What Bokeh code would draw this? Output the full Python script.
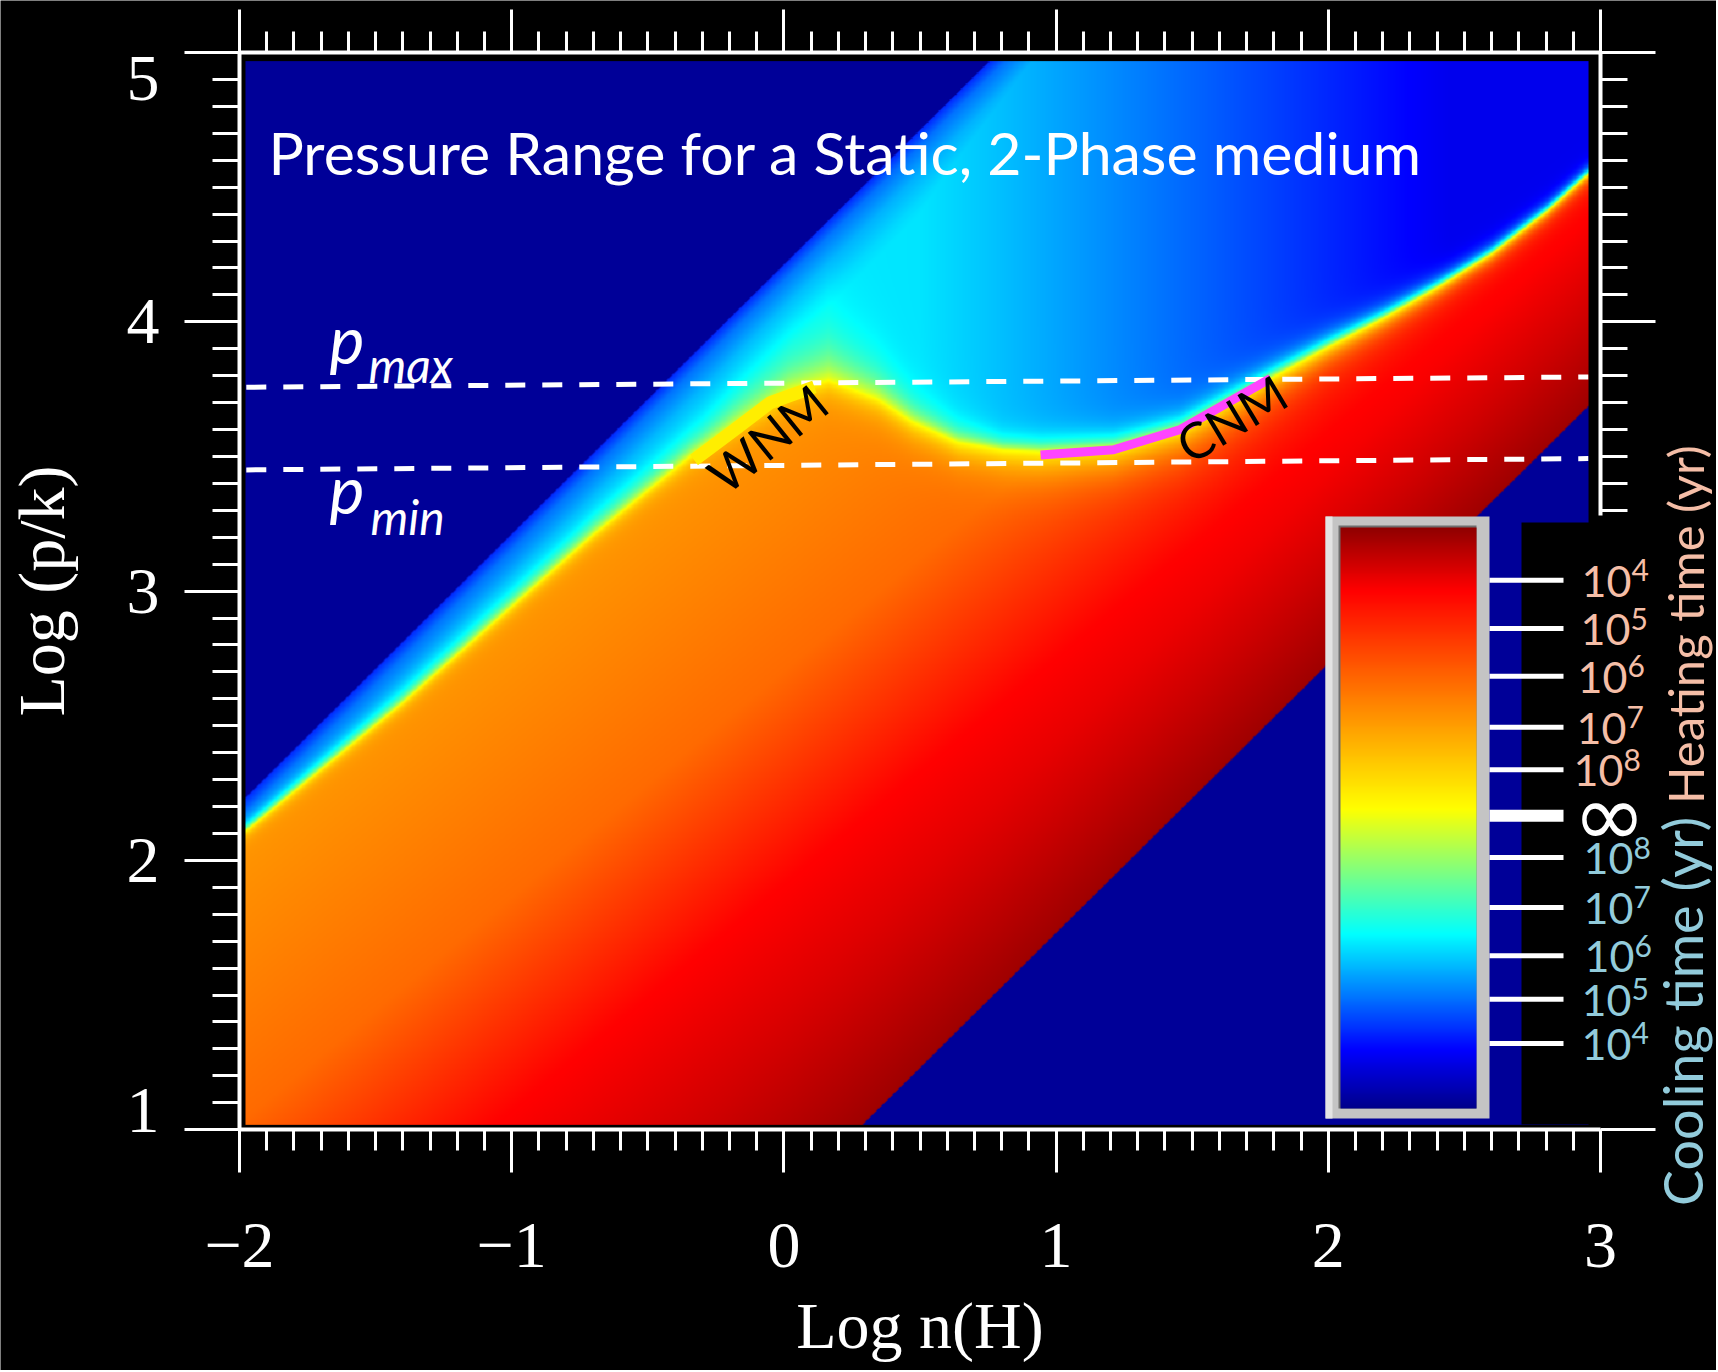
import numpy as np
from bokeh.plotting import figure
from bokeh.models import (LinearAxis, SingleIntervalTicker, FixedTicker, Range1d, Label,
                          CustomJSTickFormatter)
from bokeh.embed import file_html
from bokeh.resources import INLINE

# ---------------- values ----------------
# thermal-equilibrium curve (heating = cooling): log n(H) -> log p/k
eq_logn = [-2.00, -1.40, -0.70, -0.347, -0.18, 0.015, 0.164, 0.344, 0.473,
           0.638, 0.803, 0.943, 1.211, 1.457, 1.788, 2.0, 2.2, 2.4, 2.6, 2.8, 2.96]
eq_logp = [2.09, 2.586, 3.21, 3.498, 3.617, 3.74, 3.784, 3.714, 3.628,
           3.553, 3.524, 3.516, 3.53, 3.60, 3.788, 3.905, 4.01, 4.125, 4.25, 4.405, 4.55]

# temperature limits of the computed grid (log p/k - log n)
hot_limit = 4.21
cold_limit = 0.73

# heating-time side: colour level vs (tilted) log T, and width of the approach to equilibrium
heat_logT = [0.73, 1.33, 1.96, 2.75, 3.3, 4.2]
heat_level = [0.985, 0.937, 0.89, 0.735, 0.70, 0.645]
heat_tilt = 0.16
heat_scale_logn = [-2.0, -0.5, 0.16, 0.6, 1.0, 1.6, 2.0, 2.5, 3.0]
heat_scale = [0.02, 0.03, 0.05, 0.06, 0.08, 0.08, 0.05, 0.03, 0.025]

# cooling-time side
cool_logT = [3.8, 3.95, 4.05, 4.15, 4.21]
cool_level_T = [0.30, 0.27, 0.24, 0.19, 0.13]
cool_logn = [-2.0, 0.5, 2.45, 3.0]
cool_level_n = [0.30, 0.28, 0.085, 0.085]
cool_scale_logn = [-2.0, -0.8, -0.3, 0.16, 0.5, 0.8, 1.2, 1.6, 2.0, 2.5, 3.0]
cool_scale = [0.02, 0.04, 0.05, 0.12, 0.055, 0.035, 0.04, 0.04, 0.035, 0.025, 0.02]

# stable branches
wnm_logn = [-0.33, -0.18, -0.05, 0.112]
wnm_logp = [3.487, 3.60, 3.70, 3.758]
cnm_logn = [0.943, 1.211, 1.457, 1.788]
cnm_logp = [3.505, 3.525, 3.60, 3.79]

# pressure limits
pmax_logn = [-1.975, 2.955]
pmax_logp = [3.757, 3.795]
pmin_logn = [-1.975, 2.955]
pmin_logp = [3.450, 3.492]

# colour scale (0 = shortest cooling time, 1 = shortest heating time)
cmap_pos = [0.0, 0.10, 0.30, 0.516, 0.892, 1.0]
cmap_r = [0, 0, 0, 255, 255, 144]
cmap_g = [0, 0, 255, 255, 0, 0]
cmap_b = [140, 255, 255, 0, 0, 0]
heat_exponents = ["4", "5", "6", "7", "8"]
heat_tick_level = [0.909, 0.826, 0.744, 0.656, 0.583]
inf_level = 0.504
cool_exponents = ["8", "7", "6", "5", "4"]
cool_tick_level = [0.432, 0.346, 0.263, 0.188, 0.112]

# ---------------- helpers (layout only) ----------------
PX_X = 272.2
PX_Y = 269.3

def fx(px):
    return (px - 239) / PX_X - 2

def fy(py):
    return 5 - (py - 52) / PX_Y

def pack(R, G, B):
    h, w = R.shape
    img = np.empty((h, w), dtype=np.uint32)
    view = img.view(dtype=np.uint8).reshape((h, w, 4))
    view[:, :, 0] = np.clip(R, 0, 255).astype(np.uint8)
    view[:, :, 1] = np.clip(G, 0, 255).astype(np.uint8)
    view[:, :, 2] = np.clip(B, 0, 255).astype(np.uint8)
    view[:, :, 3] = 255
    return img

def cmap(v):
    return (np.interp(v, cmap_pos, cmap_r), np.interp(v, cmap_pos, cmap_g),
            np.interp(v, cmap_pos, cmap_b))

# ---------------- raster of heating / cooling time ----------------
img_x0, img_x1 = -1.978, 2.956
img_y0, img_y1 = 1.018, 4.968
nx, ny = 1100, 870
xs = img_x0 + (np.arange(nx) + 0.5) * (img_x1 - img_x0) / nx
ys = img_y0 + (np.arange(ny) + 0.5) * (img_y1 - img_y0) / ny
X, Y = np.meshgrid(xs, ys)
T = Y - X
yeq = np.interp(X, eq_logn, eq_logp)
d = Y - yeq
tilt = heat_tilt * (X + 0.3) * np.clip((T - cold_limit) / 0.7, 0, 1)
v0 = np.interp(T + tilt, heat_logT, heat_level)
lh = np.interp(X, heat_scale_logn, heat_scale)
vh = 0.505 + (v0 - 0.505) * (1 - np.exp(-np.clip(-d, 0, None) / lh))
w0 = np.minimum(np.interp(T, cool_logT, cool_level_T), np.interp(X, cool_logn, cool_level_n))
lc = np.interp(X, cool_scale_logn, cool_scale)
vc = 0.505 - (0.505 - w0) * (1 - np.exp(-np.clip(d, 0, None) / lc))
v = np.where(d < 0, vh, vc)
R, G, B = cmap(v)
pix = 0.006
a = np.clip((hot_limit - T) / pix + 0.5, 0, 1) * np.clip((T - cold_limit) / pix + 0.5, 0, 1)
navy = (0, 0, 152)
R = navy[0] * (1 - a) + R * a
G = navy[1] * (1 - a) + G * a
B = navy[2] * (1 - a) + B * a
field = pack(R, G, B)

# colour bar gradient
cv = np.linspace(0, 1, 600).reshape(600, 1)
cr, cg, cb = cmap(cv)
bar = pack(cr, cg, cb)

# ---------------- figure: the frame spans the whole canvas, axes sit at fixed places ----------------
CANVAS_W, CANVAS_H = 1716, 1370
p = figure(x_range=Range1d(fx(0), fx(CANVAS_W)), y_range=Range1d(fy(CANVAS_H), fy(0)),
           frame_width=CANVAS_W, frame_height=CANVAS_H,
           min_border_left=0, min_border_right=0, min_border_top=0, min_border_bottom=0,
           output_backend="svg", toolbar_location=None,
           background_fill_color="black", border_fill_color="black")
p.outline_line_color = None
p.grid.visible = False

p.image_rgba(image=[field], x=img_x0, y=img_y0, dw=img_x1 - img_x0, dh=img_y1 - img_y0)

# black panel behind the colour-bar labels
p.quad(left=fx(1521), right=fx(1760), bottom=fy(1124), top=fy(522), fill_color="black", line_color=None)

# colour bar frame and gradient
p.quad(left=fx(1325), right=fx(1489), bottom=fy(1118), top=fy(516),
       fill_color="#c4c4c4", line_color=None)
p.quad(left=fx(1325), right=fx(1332), bottom=fy(1118), top=fy(516),
       fill_color="#e4e4e4", line_color=None)
p.quad(left=fx(1338), right=fx(1476), bottom=fy(1108), top=fy(525),
       fill_color="#6e6e6e", line_color=None)
cb_y0, cb_y1 = fy(1108), fy(527)
p.image_rgba(image=[bar], x=fx(1340), y=cb_y0, dw=fx(1476) - fx(1340), dh=cb_y1 - cb_y0)

def cb_y(level):
    return cb_y0 + level * (cb_y1 - cb_y0)

tick_levels = heat_tick_level + cool_tick_level
p.segment(x0=[fx(1489)] * len(tick_levels), x1=[fx(1563)] * len(tick_levels),
          y0=[cb_y(t) for t in tick_levels], y1=[cb_y(t) for t in tick_levels],
          line_color="white", line_width=5)
p.segment(x0=[fx(1489)], x1=[fx(1563)], y0=[cb_y(inf_level)], y1=[cb_y(inf_level)],
          line_color="white", line_width=12)

# pressure limits and stable phases
p.line(pmax_logn, pmax_logp, line_color="white", line_width=5, line_dash="20 17")
p.line(pmin_logn, pmin_logp, line_color="white", line_width=5, line_dash="20 17")
p.line(wnm_logn, wnm_logp, line_color="#ffee00", line_width=13)
p.line(cnm_logn, cnm_logp, line_color="#ff44ff", line_width=9)

# ---------------- axes ----------------
def style(ax, major_out, minor_out):
    ax.ticker = SingleIntervalTicker(interval=1, num_minor_ticks=10)
    ax.axis_line_color = "white"
    ax.axis_line_width = 4
    ax.major_tick_line_color = "white"
    ax.major_tick_line_width = 3
    ax.minor_tick_line_color = "white"
    ax.minor_tick_line_width = 3
    ax.major_tick_in = 0
    ax.minor_tick_in = 0
    ax.major_tick_out = major_out
    ax.minor_tick_out = minor_out
    ax.major_label_text_color = "white"
    ax.major_label_text_font = "Liberation Serif"
    ax.major_label_text_font_size = "66px"
    ax.axis_label_text_color = "white"
    ax.axis_label_text_font = "Liberation Serif"
    ax.axis_label_text_font_size = "66px"
    ax.axis_label_text_font_style = "normal"

xb = p.xaxis[0]
yl = p.yaxis[0]
style(xb, 43, 21)
style(yl, 55, 27)
xb.bounds = (-2, 3)
xb.fixed_location = 1
yl.bounds = (1, 5)
yl.fixed_location = -2
xb.formatter = CustomJSTickFormatter(code="return tick < 0 ? '\u2212' + (-tick) : String(tick);")
# the end labels 1 and 5 are set off the ticks in the original; they are drawn as labels below
yl.formatter = CustomJSTickFormatter(code="return (tick == 1 || tick == 5) ? '' : String(tick);")
xb.major_label_standoff = 51
yl.major_label_standoff = 25
xb.axis_label = "Log n(H)"
yl.axis_label = "Log (p/k)"
xb.axis_label_standoff = 19
yl.axis_label_standoff = 46

xt = LinearAxis(fixed_location=5)
yr = LinearAxis(fixed_location=3)
yr_low = LinearAxis(fixed_location=3)
style(xt, 43, 21)
style(yr, 55, 27)
style(yr_low, 55, 27)
xt.bounds = (-2, 3)
yr.bounds = (3.28, 5)
yr_low.ticker = FixedTicker(ticks=[1], minor_ticks=[])
yr_low.bounds = (1, 1.02)
yr_low.axis_line_color = None
for ax in (xt, yr, yr_low):
    ax.formatter = CustomJSTickFormatter(code="return '';")
    ax.major_label_text_font_size = "1px"
    ax.major_label_standoff = 0
p.add_layout(xt, "above")
p.add_layout(yr, "right")
p.add_layout(yr_low, "right")

# ---------------- texts ----------------
FONT = "Lato"
def label(px, py, text, size, color="white", style="normal", font=FONT, angle=0, align="left"):
    p.add_layout(Label(x=fx(px), y=fy(py), text=text, text_font=font, text_font_style=style,
                       text_font_size=size, text_color=color, angle=angle, angle_units="deg",
                       text_baseline="middle", text_align=align))

label(142.5, 77.5, "5", "66px", font="Liberation Serif", align="center")
label(142.5, 1109.5, "1", "66px", font="Liberation Serif", align="center")

label(268, 152, "Pressure Range for a Static, 2-Phase medium", "59px")
label(329, 338, "p", "66px", style="italic")
label(368, 364, "max", "48px", style="italic")
label(329, 488, "p", "66px", style="italic")
label(370, 516, "min", "48px", style="italic")
label(767, 438, "WNM", "50px", color="black", angle=39, align="center")
label(1231, 418, "CNM", "50px", color="black", angle=31, align="center")

HEAT_C = "#f5bea7"
COOL_C = "#92cbdb"
heat_left = [1581, 1580, 1577, 1576, 1573]
cool_left = [1583, 1583, 1584, 1581, 1581]
for exps, levels, lefts, col in [(heat_exponents, heat_tick_level, heat_left, HEAT_C),
                                  (cool_exponents, cool_tick_level, cool_left, COOL_C)]:
    for e, lv, lx in zip(exps, levels, lefts):
        yc = cb_y(lv)
        p.add_layout(Label(x=fx(lx), y=yc - 1 / PX_Y, text="10", text_font=FONT,
                           text_font_size="43px", text_color=col,
                           text_baseline="middle", text_align="left"))
        p.add_layout(Label(x=fx(lx + 50), y=yc + 10 / PX_Y, text=e, text_font=FONT,
                           text_font_size="30px", text_color=col,
                           text_baseline="middle", text_align="left"))
p.add_layout(Label(x=fx(1609), y=cb_y(inf_level), text="\u221e", text_font="DejaVu Sans",
                   text_font_size="88px", text_color="white",
                   text_baseline="middle", text_align="center"))
label(1684, 624, "Heating time (yr)", "49px", color=HEAT_C, angle=90, align="center")
label(1682, 1011, "Cooling time (yr)", "54px", color=COOL_C, angle=90, align="center")

open("out.html", "w").write(file_html(p, INLINE))
